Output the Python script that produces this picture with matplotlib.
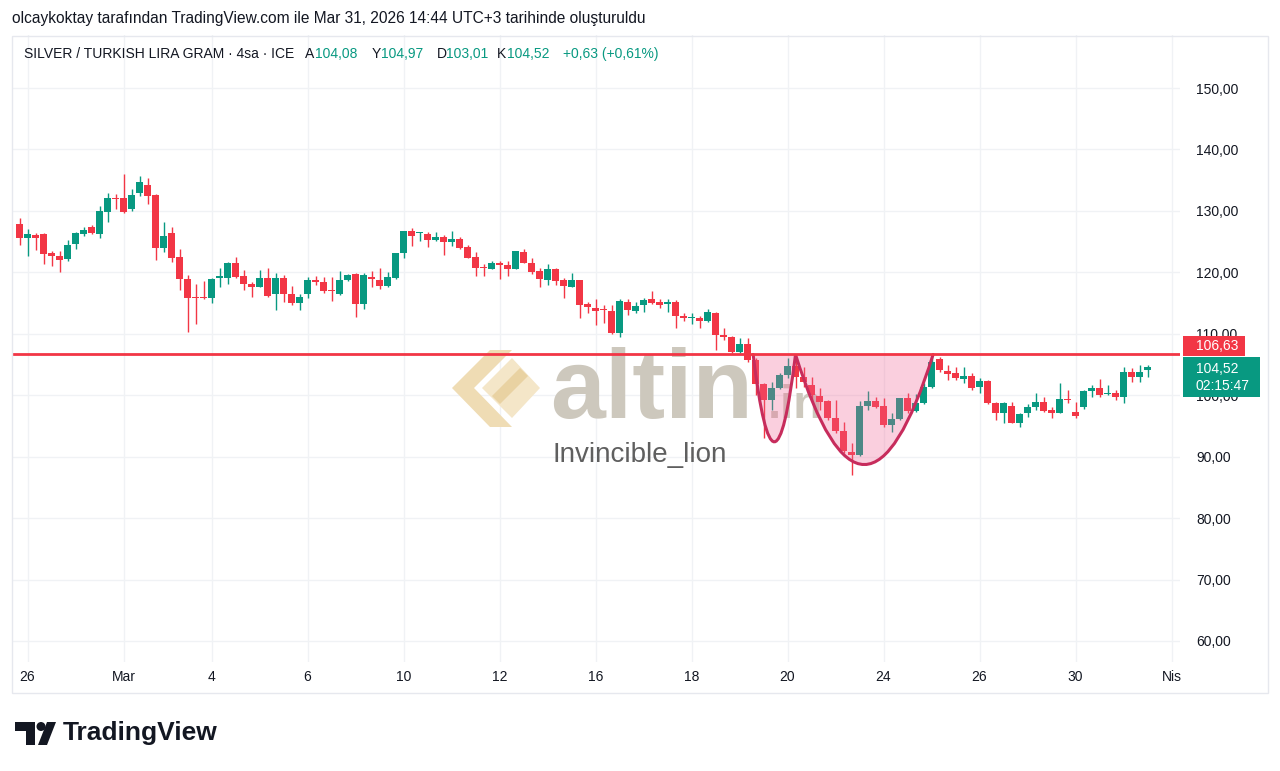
import matplotlib
matplotlib.use("Agg")
import matplotlib.pyplot as plt
import matplotlib.transforms as mtransforms
from matplotlib.path import Path
from matplotlib.patches import PathPatch, Rectangle, Polygon, Circle

W, H = 1280, 771

# 4h candles, SILVER / TURKISH LIRA GRAM
opens = [
    127.81, 125.64, 126.08, 126.24, 123.20, 122.71, 122.12, 124.61, 126.24, 127.32,
    126.24, 129.82, 132.15, 132.10, 130.31, 132.86, 134.16, 132.59, 124.02, 126.35,
    122.44, 118.86, 115.93, 115.93, 115.77, 119.02, 119.13, 121.57, 119.40, 118.10,
    117.67, 119.08, 116.53, 119.08, 116.42, 114.95, 116.47, 118.80, 118.37, 117.07,
    116.47, 118.75, 119.67, 114.79, 119.29, 118.75, 117.83, 119.13, 123.20, 126.78,
    126.35, 126.18, 125.31, 125.69, 124.99, 125.48, 124.12, 122.44, 120.81, 120.60,
    121.46, 121.19, 120.60, 123.36, 121.57, 120.22, 118.70, 120.54, 118.70, 117.67,
    118.70, 114.79, 114.20, 113.98, 113.71, 110.18, 115.23, 113.71, 114.68, 115.61,
    115.23, 114.79, 115.23, 112.95, 112.51, 112.62, 112.08, 113.44, 109.80, 109.53,
    107.09, 108.28, 105.73, 101.77, 99.22, 101.12, 103.29, 104.81, 103.02, 101.66,
    99.93, 99.06, 96.24, 94.23, 90.81, 90.27, 98.30, 99.11, 98.30, 95.15,
    96.07, 99.49, 97.43, 98.68, 101.39, 105.84, 104.00, 103.56, 102.59, 103.13,
    101.28, 102.31, 98.79, 97.05, 98.25, 95.53, 97.16, 98.03, 98.95, 97.59,
    97.16, 99.33, 97.32, 98.03, 100.74, 101.12, 100.20, 100.31, 99.76, 103.83,
    103.02, 104.08,
]
highs = [
    128.79, 127.00, 126.46, 126.40, 123.53, 123.53, 125.32, 126.50, 127.38, 127.65,
    130.74, 132.97, 132.70, 136.00, 133.51, 135.62, 135.30, 132.70, 128.14, 127.38,
    123.85, 119.51, 118.15, 118.59, 119.02, 120.76, 121.65, 122.50, 120.38, 118.37,
    120.38, 120.76, 119.89, 119.57, 117.70, 116.47, 119.29, 119.46, 119.29, 119.29,
    120.22, 119.67, 119.84, 119.84, 120.22, 120.65, 120.00, 123.20, 126.80, 127.27,
    126.62, 126.62, 126.51, 126.08, 126.73, 125.80, 124.45, 123.25, 121.30, 121.84,
    121.84, 121.84, 123.55, 123.80, 122.28, 120.65, 121.30, 120.76, 119.13, 119.94,
    118.80, 115.12, 115.70, 114.68, 114.68, 115.66, 115.66, 115.23, 115.77, 116.96,
    115.66, 115.66, 115.50, 113.33, 113.33, 112.89, 114.03, 113.50, 110.89, 109.60,
    109.26, 109.26, 106.11, 101.94, 102.21, 103.56, 106.11, 106.27, 104.65, 103.02,
    101.12, 99.22, 99.22, 95.70, 92.17, 99.06, 100.69, 99.77, 99.49, 97.05,
    99.60, 100.31, 100.14, 101.93, 106.54, 106.17, 104.92, 104.65, 104.65, 103.56,
    102.75, 102.48, 98.85, 98.95, 98.95, 97.05, 98.57, 100.31, 99.77, 98.14,
    102.04, 100.85, 98.95, 100.85, 101.66, 102.58, 101.66, 100.85, 104.65, 104.37,
    104.92, 104.97,
]
lows = [
    124.45, 122.71, 123.64, 121.41, 121.03, 120.11, 121.85, 123.80, 125.97, 126.29,
    125.64, 128.25, 130.31, 129.70, 129.98, 132.48, 131.18, 122.06, 123.31, 121.68,
    117.07, 110.24, 111.65, 115.66, 115.01, 117.67, 118.10, 119.13, 117.07, 115.99,
    117.56, 116.00, 113.87, 115.12, 114.68, 113.87, 115.77, 117.94, 116.58, 115.33,
    116.30, 118.64, 112.78, 113.97, 117.67, 117.29, 117.67, 118.91, 122.28, 124.28,
    125.10, 124.07, 125.15, 122.82, 124.28, 123.74, 122.28, 119.46, 119.46, 120.49,
    118.91, 119.40, 120.49, 121.46, 119.78, 117.67, 117.94, 117.94, 115.77, 117.56,
    112.51, 113.33, 111.40, 111.70, 109.91, 109.53, 113.06, 113.33, 113.49, 114.85,
    114.25, 113.49, 110.99, 112.08, 111.59, 110.89, 111.97, 107.36, 108.99, 106.82,
    106.82, 105.46, 100.04, 92.98, 97.59, 101.01, 102.75, 101.12, 101.39, 99.22,
    97.59, 95.97, 93.80, 90.54, 87.02, 90.16, 97.59, 97.97, 94.88, 94.07,
    95.97, 97.05, 97.32, 98.57, 101.12, 103.83, 102.48, 102.48, 101.93, 100.85,
    100.31, 98.57, 95.97, 95.42, 95.42, 94.88, 96.51, 97.59, 97.32, 96.24,
    97.05, 98.79, 96.24, 97.70, 99.76, 99.76, 100.04, 99.22, 98.68, 102.21,
    102.10, 103.01,
]
closes = [
    125.64, 126.24, 125.64, 123.04, 122.71, 122.06, 124.50, 126.35, 126.89, 126.46,
    129.98, 132.10, 131.99, 129.87, 132.59, 134.65, 132.48, 124.02, 125.91, 122.39,
    118.86, 115.82, 115.77, 115.77, 118.92, 119.46, 121.57, 119.29, 118.04, 117.67,
    119.02, 116.09, 119.08, 116.42, 114.98, 116.04, 118.75, 118.37, 116.91, 116.91,
    118.75, 119.62, 114.79, 119.57, 118.86, 117.83, 119.24, 123.09, 126.73, 125.91,
    126.45, 125.31, 125.69, 124.94, 125.48, 124.01, 122.39, 120.65, 120.65, 121.46,
    121.14, 120.60, 123.47, 121.57, 120.11, 118.86, 120.54, 118.64, 117.77, 118.70,
    114.68, 114.30, 113.65, 113.81, 110.18, 115.33, 113.81, 114.58, 115.50, 114.95,
    114.68, 115.23, 112.89, 112.51, 112.62, 112.13, 113.49, 109.80, 109.42, 107.09,
    108.28, 105.73, 101.77, 99.22, 101.12, 103.29, 104.81, 103.02, 102.21, 100.04,
    98.95, 96.24, 94.23, 90.92, 90.27, 98.30, 99.11, 98.14, 95.15, 96.07,
    99.49, 97.43, 98.68, 101.39, 105.46, 104.10, 103.45, 102.75, 103.13, 101.12,
    102.31, 98.68, 97.05, 98.68, 95.53, 96.89, 98.03, 98.95, 97.49, 97.16,
    99.33, 99.22, 96.62, 100.74, 101.23, 100.04, 100.31, 99.76, 103.83, 103.02,
    103.72, 104.52,
]

# time axis (bar index of each label)
date_pos = [1, 13, 24, 36, 48, 60, 72, 84, 96, 108, 120, 132, 144]
date_labels = ["26", "Mar", "4", "6", "10", "12", "16", "18", "20", "24", "26", "30", "Nis"]

price_ticks = [60, 70, 80, 90, 100, 110, 120, 130, 140, 150]
price_labels = ["60,00", "70,00", "80,00", "90,00", "100,00", "110,00",
                "120,00", "130,00", "140,00", "150,00"]

resistance = 106.63
last_close = 104.52

# cup drawing: start, control, end, control, end (bar index, price)
cup_x = [91.7, 94.35, 97.0, 105.6, 114.2]
cup_y = [106.63, 78.2, 106.63, 70.8, 106.63]

GREEN = "#089981"
RED = "#f23645"
TXT = "#131722"

plt.rcParams["font.family"] = ["Liberation Sans", "DejaVu Sans"]

fig = plt.figure(figsize=(12.8, 7.71), dpi=100)
fig.patch.set_facecolor("white")
# image pixel coords (y down) -> figure
px = mtransforms.Affine2D().scale(1 / W, -1 / H).translate(0, 1) + fig.transFigure

ax = fig.add_axes([12 / W, 1 - 662 / H, 1168 / W, 627 / H])
ax.set_xlim(-0.94, 145.06)
ax.set_ylim(56.58, 158.63)
for s in ax.spines.values():
    s.set_visible(False)
ax.set_axisbelow(True)
ax.grid(color="#f0f2f5", lw=1)

ax.yaxis.tick_right()
ax.set_yticks(price_ticks)
ax.set_yticklabels(price_labels)
ax.set_xticks(date_pos)
ax.set_xticklabels(date_labels)
ax.tick_params(axis="y", length=0, pad=11.5, labelsize=10, labelcolor=TXT)
ax.tick_params(axis="x", length=0, pad=6, labelsize=10, labelcolor=TXT)

# candles
xs = list(range(len(opens)))
cols = [GREEN if c >= o else RED for o, c in zip(opens, closes)]
bottoms = [min(o, c) for o, c in zip(opens, closes)]
heights = [max(abs(c - o), 0.15) for o, c in zip(opens, closes)]
ax.vlines(xs, lows, highs, colors=cols, lw=1, zorder=2)
ax.bar(xs, heights, bottom=bottoms, width=0.8, color=cols, linewidth=0, zorder=2.1)

# watermark
ax.add_patch(Polygon([(452, 388), (490, 350), (512, 350), (474, 388), (512, 427), (490, 427)],
                     closed=True, transform=px, facecolor="#efdcb4", edgecolor="none", zorder=1))
ax.add_patch(Polygon([(482, 388), (512, 358), (540, 388), (512, 418)],
                     closed=True, transform=px, facecolor="#f4e6c8", edgecolor="none", zorder=1))
ax.add_patch(Polygon([(492, 396), (520, 368), (528, 376), (500, 404)],
                     closed=True, transform=px, facecolor="#e9d2a2", edgecolor="none", zorder=1))
ax.text(550, 418, "altin", transform=px, fontsize=71, fontweight="bold", color="#cdc8bd",
        ha="left", va="baseline", zorder=1)
ax.text(768, 418, ".in", transform=px, fontsize=34, fontweight="bold", color="#cdc8bd",
        ha="left", va="baseline", zorder=1)
ax.text(640, 455, "Invincible_lion", transform=px, fontsize=20, color="#5f5f5f",
        ha="center", va="center", zorder=1)

# cup & handle shading
verts = list(zip(cup_x, cup_y))
codes = [Path.MOVETO, Path.CURVE3, Path.CURVE3, Path.CURVE3, Path.CURVE3]
fill_path = Path(verts + [(cup_x[0], cup_y[0]), (cup_x[0], cup_y[0])],
                 codes + [Path.LINETO, Path.CLOSEPOLY])
ax.add_patch(PathPatch(fill_path, facecolor="#f06292", alpha=0.3, edgecolor="none", zorder=3))
ax.add_patch(PathPatch(Path(verts, codes), facecolor="none", edgecolor="#c72c5c", lw=2.2,
                       zorder=4, capstyle="round"))

ax.axhline(resistance, color=RED, lw=2, zorder=5)

# price scale labels (drawn over the 100 / 110 tick labels, as on the chart)
fig.add_artist(Rectangle((1183, 336), 62, 20, transform=px, facecolor=RED, edgecolor="none",
                         zorder=3))
fig.text(1196, 346, "106,63", transform=px, fontsize=10, color="white", va="center", ha="left",
         zorder=4)
fig.add_artist(Rectangle((1183, 357), 77, 40, transform=px, facecolor=GREEN, edgecolor="none",
                         zorder=3))
fig.text(1196, 369, "104,52", transform=px, fontsize=10, color="white", va="center", ha="left",
         zorder=4)
fig.text(1196, 386, "02:15:47", transform=px, fontsize=10, color="white", va="center", ha="left",
         zorder=4)

# panel border
fig.add_artist(Rectangle((12, 36), 1256, 657, transform=px, fill=False,
                         edgecolor="#e6e8ee", lw=1))

# header
fig.text(12, 19, "olcaykoktay tarafından TradingView.com ile Mar 31, 2026 14:44 UTC+3 tarihinde oluşturuldu",
         transform=px, fontsize=11.2, color=TXT, va="center", ha="left")

legend = [
    (24, "SILVER / TURKISH LIRA GRAM · 4sa · ICE", TXT),
    (305, "A", TXT), (315, "104,08", GREEN),
    (372, "Y", TXT), (381, "104,97", GREEN),
    (437, "D", TXT), (446, "103,01", GREEN),
    (497, "K", TXT), (507, "104,52", GREEN),
    (563, "+0,63 (+0,61%)", GREEN),
]
for x0, s, c in legend:
    fig.text(x0, 54, s, transform=px, fontsize=10, color=c, va="center", ha="left")

# TradingView logo
fig.add_artist(Polygon([(15, 722), (35, 722), (35, 745), (26, 745), (26, 731), (15, 731)],
                       closed=True, transform=px, facecolor=TXT, edgecolor="none"))
fig.add_artist(Circle((41, 726.5), 4.5, transform=px, facecolor=TXT, edgecolor="none"))
fig.add_artist(Polygon([(47, 722), (56, 722), (47, 745), (38, 745)],
                       closed=True, transform=px, facecolor=TXT, edgecolor="none"))
fig.text(63, 733, "TradingView", transform=px, fontsize=19, fontweight="bold", color=TXT,
         va="center", ha="left")

fig.savefig("out.png", dpi=100)
